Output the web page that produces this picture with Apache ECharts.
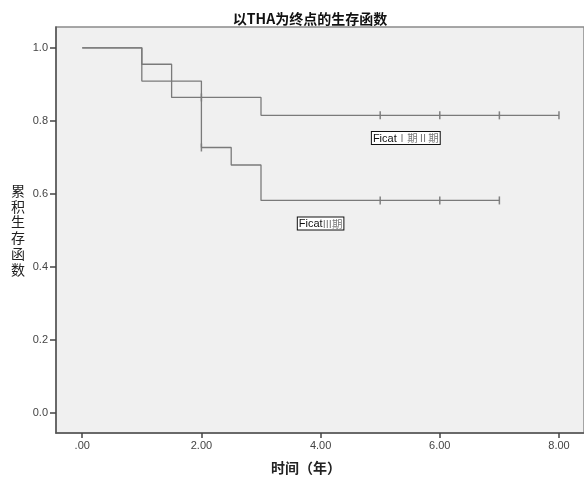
<!DOCTYPE html>
<html>
<head>
<meta charset="utf-8">
<script src="https://cdn.jsdelivr.net/npm/echarts@6/dist/echarts.min.js"></script>
<style>
  html, body { margin: 0; padding: 0; background: #fff; }
  #main { width: 584px; height: 481px; }
</style>
</head>
<body>
<div id="main"></div>
<script>
// Kaplan-Meier steps: [time (years), cumulative survival]
var stageOneTwo = [[0, 1.0], [1, 0.955], [1.5, 0.864], [3, 0.815], [8, 0.815]];
var stageThree = [[0, 1.0], [1, 0.909], [2, 0.727], [2.5, 0.679], [3, 0.582], [7, 0.582]];
// censored cases
var censorOneTwo = [[2, 0.864], [5, 0.815], [6, 0.815], [7, 0.815], [8, 0.815]];
var censorThree = [[2, 0.727], [5, 0.582], [6, 0.582], [7, 0.582]];
var xTicks = [0, 2, 4, 6, 8];
var yTicks = [0, 0.2, 0.4, 0.6, 0.8, 1.0];
var labelOneTwo = { coord: [5.43, 0.753], head: 'Ficat', tail: 'Ⅰ期Ⅱ期' };
var labelThree = { coord: [4.0, 0.519], head: 'Ficat', tail: 'III期' };

var chart = echarts.init(document.getElementById('main'));

var lineColor = '#7a7a7a';

function tag(lbl) {
  return {
    name: lbl.head,
    coord: lbl.coord,
    symbolSize: 0,
    label: {
      show: true,
      position: 'inside',
      formatter: '{a|' + lbl.head + '}{b|' + lbl.tail + '}',
      backgroundColor: '#fff',
      borderColor: '#111',
      borderWidth: 1,
      padding: [1, 1, 0, 1],
      rich: {
        a: { fontFamily: 'Arial, Liberation Sans, sans-serif', fontSize: 11, color: '#111' },
        b: { fontFamily: 'Noto Sans CJK SC, sans-serif', fontSize: 10.5, color: '#777' }
      }
    }
  };
}

var option = {
  animation: false,
  backgroundColor: '#fff',
  title: {
    text: '以THA为终点的生存函数',
    left: 305,
    textAlign: 'center',
    top: 7,
    textStyle: { fontFamily: 'Noto Sans CJK SC, sans-serif', fontSize: 14, fontWeight: 'bold', color: '#111' }
  },
  grid: {
    left: 56, right: -2, top: 27, bottom: 48,
    show: true,
    backgroundColor: '#f0f0f0',
    borderColor: '#8a8a8a',
    borderWidth: 1.5
  },
  xAxis: {
    type: 'value',
    min: -0.44,
    max: 8.42,
    name: '时间（年）',
    nameLocation: 'middle',
    nameGap: 28,
    nameTextStyle: { fontFamily: 'Noto Sans CJK SC, sans-serif', fontSize: 14, fontWeight: 'bold', color: '#222', padding: [0, 28, 0, 0] },
    axisLine: { onZero: false, lineStyle: { color: '#555', width: 1.5 } },
    axisTick: { show: true, length: 5, customValues: xTicks, lineStyle: { color: '#444', width: 1.5 } },
    axisLabel: {
      customValues: xTicks,
      margin: 7,
      fontFamily: 'Arial, Liberation Sans, sans-serif',
      fontSize: 11,
      color: '#444',
      formatter: function (v) { return v === 0 ? '.00' : v.toFixed(2); }
    },
    splitLine: { show: false }
  },
  yAxis: {
    type: 'value',
    min: -0.055,
    max: 1.057,
    name: '累\n积\n生\n存\n函\n数',
    nameLocation: 'middle',
    nameRotate: 0,
    nameGap: 31,
    nameTextStyle: { fontFamily: 'Noto Sans CJK SC, sans-serif', fontSize: 14, lineHeight: 15.7, color: '#222' },
    axisLine: { onZero: false, lineStyle: { color: '#555', width: 1.5 } },
    axisTick: { show: true, length: 6, customValues: yTicks, lineStyle: { color: '#444', width: 1.5 } },
    axisLabel: {
      customValues: yTicks,
      margin: 8,
      fontFamily: 'Arial, Liberation Sans, sans-serif',
      fontSize: 11,
      color: '#444',
      formatter: function (v) { return v.toFixed(1); }
    },
    splitLine: { show: false }
  },
  series: [
    {
      name: 'Ficat Ⅰ期Ⅱ期',
      type: 'line',
      step: 'end',
      data: stageOneTwo,
      symbol: 'none',
      lineStyle: { color: lineColor, width: 1.3 },
      markPoint: { data: [tag(labelOneTwo)] }
    },
    {
      name: 'Ficat III期',
      type: 'line',
      step: 'end',
      data: stageThree,
      symbol: 'none',
      lineStyle: { color: lineColor, width: 1.3 },
      markPoint: { data: [tag(labelThree)] }
    },
    {
      name: 'censor1',
      type: 'scatter',
      data: censorOneTwo,
      symbol: 'rect',
      symbolSize: [1.5, 8],
      itemStyle: { color: '#666' }
    },
    {
      name: 'censor3',
      type: 'scatter',
      data: censorThree,
      symbol: 'rect',
      symbolSize: [1.5, 8],
      itemStyle: { color: '#666' }
    }
  ]
};

chart.setOption(option);
</script>
</body>
</html>
